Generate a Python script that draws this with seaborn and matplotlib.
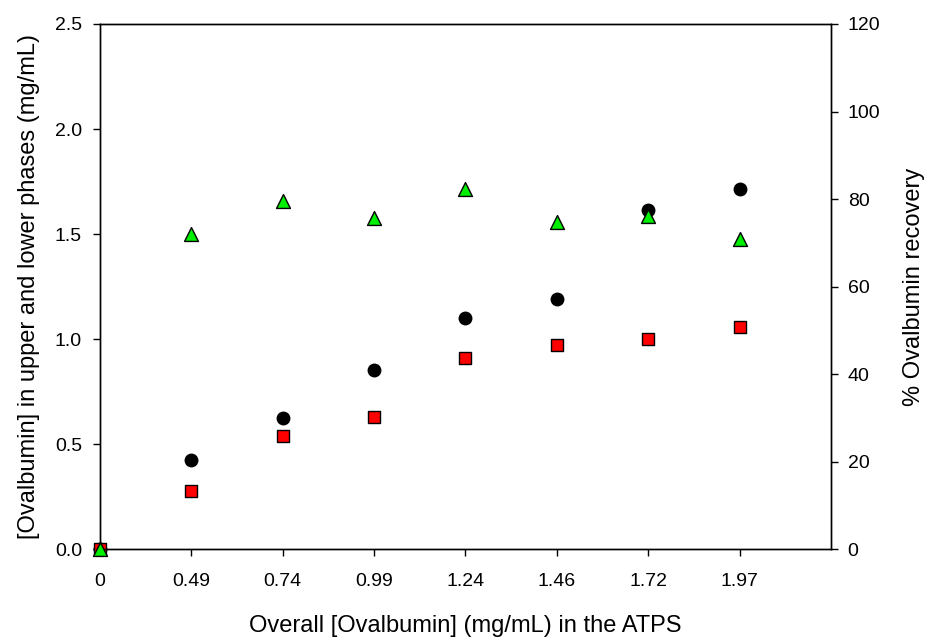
import pandas as pd
import matplotlib
matplotlib.use('Agg')
import matplotlib.pyplot as plt
import seaborn as sns

# Values
overall = ['0', '0.49', '0.74', '0.99', '1.24', '1.46', '1.72', '1.97']
upper_phase = [0.0, 0.425, 0.627, 0.854, 1.103, 1.193, 1.616, 1.714]
lower_phase = [0.0, 0.279, 0.541, 0.629, 0.910, 0.970, 1.001, 1.060]
recovery = [0.0, 72.0, 79.6, 75.7, 82.4, 74.7, 76.2, 70.9]

df = pd.DataFrame({'overall': overall, 'upper': upper_phase,
                   'lower': lower_phase, 'recovery': recovery})

sns.set_style('ticks')
plt.rcParams['font.family'] = ['Liberation Sans', 'DejaVu Sans']
plt.rcParams['xtick.major.size'] = 5
plt.rcParams['ytick.major.size'] = 5
plt.rcParams['xtick.labelsize'] = 14
plt.rcParams['ytick.labelsize'] = 14
plt.rcParams['xtick.color'] = 'black'
plt.rcParams['ytick.color'] = 'black'
plt.rcParams['text.color'] = 'black'
plt.rcParams['axes.labelcolor'] = 'black'

fig, ax = plt.subplots(figsize=(9.29, 6.4), dpi=100)
fig.subplots_adjust(left=0.1076, right=0.8945, top=0.9625, bottom=0.1417)

sns.stripplot(data=df, x='overall', y='upper', order=overall, jitter=False,
              color='black', marker='o', size=10, linewidth=0, ax=ax, clip_on=False)
sns.stripplot(data=df, x='overall', y='lower', order=overall, jitter=False,
              color='#ff0000', marker='s', size=8.5, edgecolor='black', linewidth=1,
              ax=ax, clip_on=False)

ax2 = ax.twinx()
sns.stripplot(data=df, x='overall', y='recovery', order=overall, jitter=False,
              color='#00ee00', marker='^', size=10, edgecolor='black', linewidth=1,
              ax=ax2, clip_on=False)

ax.set_xlim(0, 8)
ax.set_ylim(0, 2.5)
ax2.set_ylim(0, 120)
ax.set_yticks([0.0, 0.5, 1.0, 1.5, 2.0, 2.5])
ax.set_yticklabels(['0.0', '0.5', '1.0', '1.5', '2.0', '2.5'], fontsize=14)
ax2.set_yticks([0, 20, 40, 60, 80, 100, 120])
ax2.set_yticklabels(['0', '20', '40', '60', '80', '100', '120'], fontsize=14)
ax.set_xticks(range(len(overall)))
ax.set_xticklabels(overall, fontsize=14)

for a in (ax, ax2):
    for s in a.spines.values():
        s.set_visible(True)
        s.set_color('black')
        s.set_linewidth(1)
    a.tick_params(colors='black', width=1)
ax.tick_params(axis='x', pad=12)
ax.tick_params(axis='y', pad=8)
ax2.tick_params(axis='y', pad=7)

ax.set_xlabel('Overall [Ovalbumin] (mg/mL) in the ATPS', fontsize=17, labelpad=18)
ax.set_ylabel('[Ovalbumin] in upper and lower phases (mg/mL)', fontsize=17, labelpad=11)
ax2.set_ylabel('% Ovalbumin recovery', fontsize=17, labelpad=16)

plt.savefig('out.png', dpi=100)
